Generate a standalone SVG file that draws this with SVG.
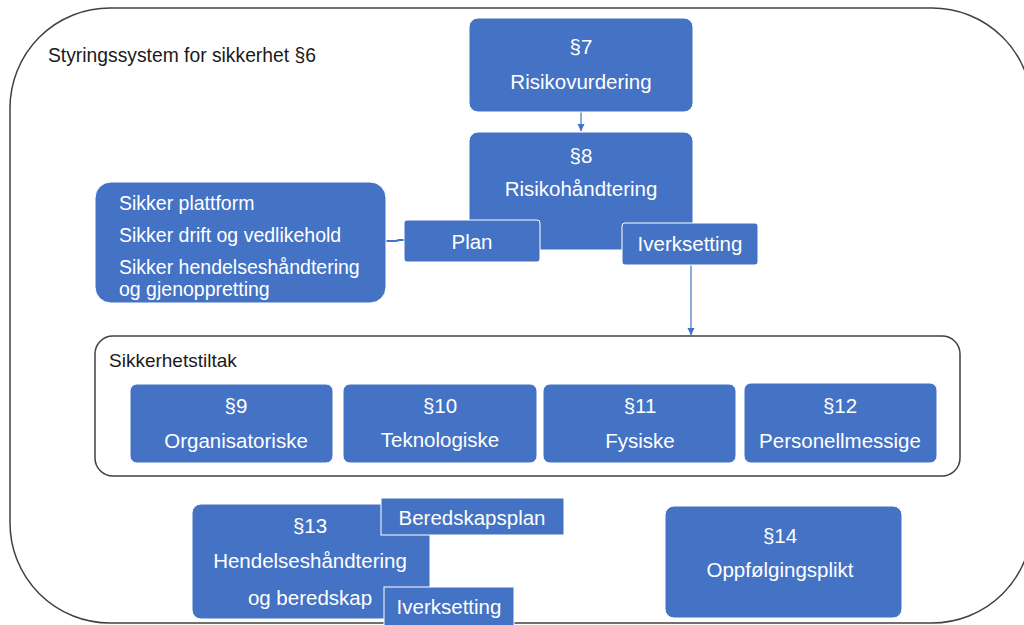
<svg xmlns="http://www.w3.org/2000/svg" width="1024" height="625" viewBox="0 0 1024 625">
<style>
.b{fill:#4472C4;stroke:#ffffff;stroke-width:1}
.t{font-family:"Liberation Sans",Arial,sans-serif;font-size:20.5px;fill:#ffffff;text-anchor:middle}
.l{font-family:"Liberation Sans",Arial,sans-serif;font-size:19.5px;fill:#ffffff}
.k{font-family:"Liberation Sans",Arial,sans-serif;fill:#1a1a1a}
.c{fill:none;stroke:#4472C4;stroke-width:1.2}
</style>
<defs>
<marker id="ah" markerWidth="8" markerHeight="8" refX="7" refY="4" orient="auto" markerUnits="userSpaceOnUse">
<path d="M0,0.5 L7.5,4 L0,7.5 Z" fill="#4472C4"/>
</marker>
</defs>
<rect width="1024" height="625" fill="#ffffff"/>
<g id="system">
<rect x="10" y="8" width="1022" height="615" rx="100" ry="100" fill="none" stroke="#404040" stroke-width="1.5"/>
<text class="k" x="48" y="62" font-size="19.3">Styringssystem for sikkerhet §6</text>
</g>
<g id="tiltak">
<rect x="95" y="336" width="865" height="140" rx="18" ry="18" fill="none" stroke="#404040" stroke-width="1.5"/>
<text class="k" x="109" y="367" font-size="19">Sikkerhetstiltak</text>
</g>
<g id="connectors">
<line class="c" x1="581" y1="112" x2="581" y2="131" marker-end="url(#ah)"/>
<line class="c" x1="691" y1="265" x2="691" y2="335" marker-end="url(#ah)"/>
<path d="M386,241 L395,241 Q397,241 399,240 L404,240" fill="none" stroke="#4472C4" stroke-width="2"/>
</g>
<g id="p7">
<rect class="b" x="469" y="18" width="224" height="94" rx="9"/>
<text class="t" x="581" y="54">§7</text>
<text class="t" x="581" y="89">Risikovurdering</text>
</g>
<g id="p8">
<rect class="b" x="469" y="132" width="224" height="118" rx="9"/>
<text class="t" x="581" y="163">§8</text>
<text class="t" x="581" y="196">Risikohåndtering</text>
</g>
<g id="plan">
<rect class="b" x="404" y="220" width="136" height="42" rx="3"/>
<text class="t" x="472" y="249">Plan</text>
</g>
<g id="iverk1">
<rect class="b" x="622" y="223" width="136" height="42" rx="3"/>
<text class="t" x="690" y="251">Iverksetting</text>
</g>
<g id="sikker">
<rect class="b" x="95" y="182" width="291" height="121" rx="16"/>
<text class="l" x="119" y="210">Sikker plattform</text>
<text class="l" x="119" y="242">Sikker drift og vedlikehold</text>
<text class="l" x="119" y="274">Sikker hendelseshåndtering</text>
<text class="l" x="119" y="296">og gjenoppretting</text>
</g>
<g id="p9">
<rect class="b" x="130" y="384" width="203" height="79" rx="7"/>
<text class="t" x="236" y="413">§9</text>
<text class="t" x="236" y="448">Organisatoriske</text>
</g>
<g id="p10">
<rect class="b" x="343" y="384" width="194" height="79" rx="7"/>
<text class="t" x="440" y="413">§10</text>
<text class="t" x="440" y="447">Teknologiske</text>
</g>
<g id="p11">
<rect class="b" x="543" y="384" width="193" height="79" rx="7"/>
<text class="t" x="640" y="413">§11</text>
<text class="t" x="640" y="448">Fysiske</text>
</g>
<g id="p12">
<rect class="b" x="744" y="383" width="193" height="80" rx="7"/>
<text class="t" x="840" y="413">§12</text>
<text class="t" x="840" y="448">Personellmessige</text>
</g>
<g id="p13">
<rect class="b" x="192" y="504" width="238" height="115" rx="9"/>
<text class="t" x="310" y="533">§13</text>
<text class="t" x="310" y="568">Hendelseshåndtering</text>
<text class="t" x="310" y="605">og beredskap</text>
</g>
<g id="beredskapsplan">
<rect class="b" x="381" y="498" width="183" height="37"/>
<text class="t" x="472" y="525">Beredskapsplan</text>
</g>
<g id="iverk2">
<rect class="b" x="384" y="587" width="130" height="42"/>
<text class="t" x="449" y="614">Iverksetting</text>
</g>
<g id="p14">
<rect class="b" x="665" y="506" width="237" height="112" rx="9"/>
<text class="t" x="780" y="543">§14</text>
<text class="t" x="780" y="577">Oppfølgingsplikt</text>
</g>
</svg>
